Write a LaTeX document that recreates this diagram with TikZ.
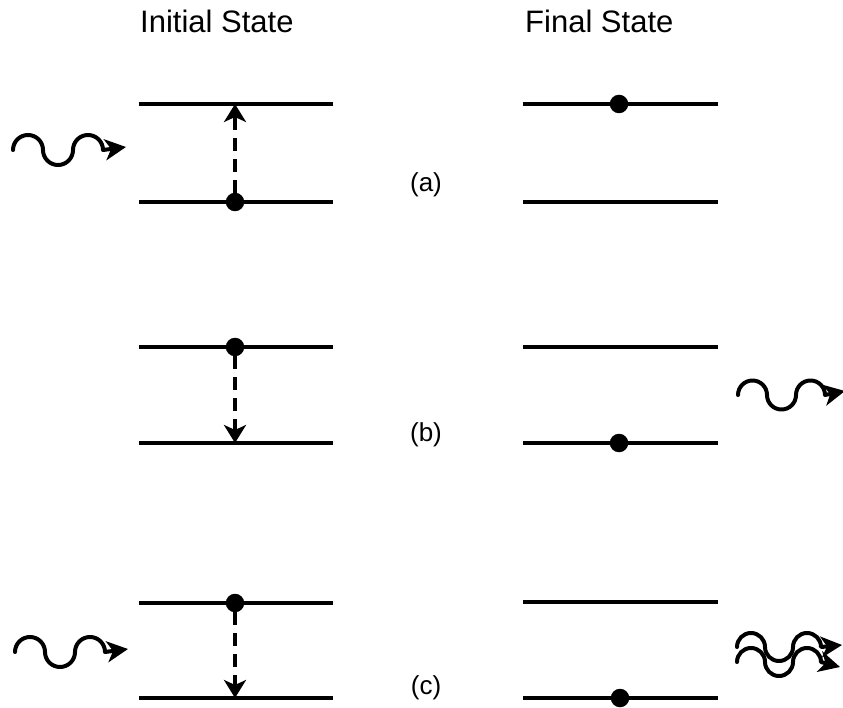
\documentclass[tikz,border=0pt]{standalone}
\usepackage{fontspec}
\setmainfont{Liberation Sans}
\usetikzlibrary{arrows.meta}
\newcommand\wavearrow[6]{% #1 name, #2 x0, #3 centre y, #4 radius, #5 tip x, #6 tip y
  \coordinate (#1s) at (#2,#3);
  \coordinate (#1t) at (#5,#6);
  \draw[photon] (#1s) arc[start angle=180,end angle=360,radius=#4]
                      arc[start angle=180,end angle=0,radius=#4]
                      arc[start angle=180,end angle=360,radius=#4]
                      -- (#1t);
}
\begin{document}
\begin{tikzpicture}[x=1pt,y=-1pt,
  level/.style={line width=3.8pt},
  transition/.style={line width=3.3pt, dash pattern=on 13pt off 8pt, -{Stealth[length=18pt,width=22pt,inset=5pt]}},
  electron/.style={circle, fill=black, inner sep=0pt, minimum size=18.5pt},
  photon/.style={line width=4pt, line cap=round, line join=round, -{Stealth[length=21pt,width=21pt,inset=6pt]}},
  title/.style={font=\fontsize{31}{36}\selectfont, anchor=base west, inner sep=0pt},
  caselabel/.style={font=\fontsize{26}{30}\selectfont, inner sep=0pt}
]
\useasboundingbox (0,0) rectangle (843,708);

% titles
\node[title] (tinit) at (140,33) {Initial State};
\node[title] (tfin) at (525,33) {Final State};

% ---------- (a) ----------
\coordinate (aLu1) at (139,104); \coordinate (aLu2) at (333,104);
\coordinate (aLl1) at (139,202); \coordinate (aLl2) at (333,202);
\draw[level] (aLu1) -- (aLu2);
\draw[level] (aLl1) -- (aLl2);
\node[electron] (aLdot) at (235,202) {};
\coordinate (aLtip) at (235,104);
\draw[transition] (aLdot) -- (aLtip);
\coordinate (aRu1) at (523,104); \coordinate (aRu2) at (718,104);
\coordinate (aRl1) at (523,202); \coordinate (aRl2) at (718,202);
\draw[level] (aRu1) -- (aRu2);
\draw[level] (aRl1) -- (aRl2);
\node[electron] (aRdot) at (619,104) {};
\node[caselabel] (alab) at (426,185) {(a)};
\wavearrow{aw}{13}{150}{15}{126}{147}

% ---------- (b) ----------
\coordinate (bLu1) at (139,347); \coordinate (bLu2) at (333,347);
\coordinate (bLl1) at (139,443); \coordinate (bLl2) at (333,443);
\draw[level] (bLu1) -- (bLu2);
\draw[level] (bLl1) -- (bLl2);
\node[electron] (bLdot) at (235,347) {};
\coordinate (bLtip) at (235,443);
\draw[transition] (bLdot) -- (bLtip);
\coordinate (bRu1) at (523,347); \coordinate (bRu2) at (718,347);
\coordinate (bRl1) at (523,443); \coordinate (bRl2) at (718,443);
\draw[level] (bRu1) -- (bRu2);
\draw[level] (bRl1) -- (bRl2);
\node[electron] (bRdot) at (619,443) {};
\node[caselabel] (blab) at (426,435) {(b)};
\wavearrow{bw}{738}{395}{14.5}{845}{391}

% ---------- (c) ----------
\coordinate (cLu1) at (139,603); \coordinate (cLu2) at (333,603);
\coordinate (cLl1) at (139,698); \coordinate (cLl2) at (333,698);
\draw[level] (cLu1) -- (cLu2);
\draw[level] (cLl1) -- (cLl2);
\node[electron] (cLdot) at (235,603) {};
\coordinate (cLtip) at (235,698);
\draw[transition] (cLdot) -- (cLtip);
\coordinate (cRu1) at (523,602); \coordinate (cRu2) at (718,602);
\coordinate (cRl1) at (523,698); \coordinate (cRl2) at (718,698);
\draw[level] (cRu1) -- (cRu2);
\draw[level] (cRl1) -- (cRl2);
\node[electron] (cRdot) at (620,698) {};
\node[caselabel] (clab) at (426,688) {(c)};
\wavearrow{cw}{15}{652}{15}{128}{649}
\wavearrow{cwa}{737}{647}{14}{842}{645}
\wavearrow{cwb}{737}{662}{14}{840}{667}
\end{tikzpicture}
\end{document}
